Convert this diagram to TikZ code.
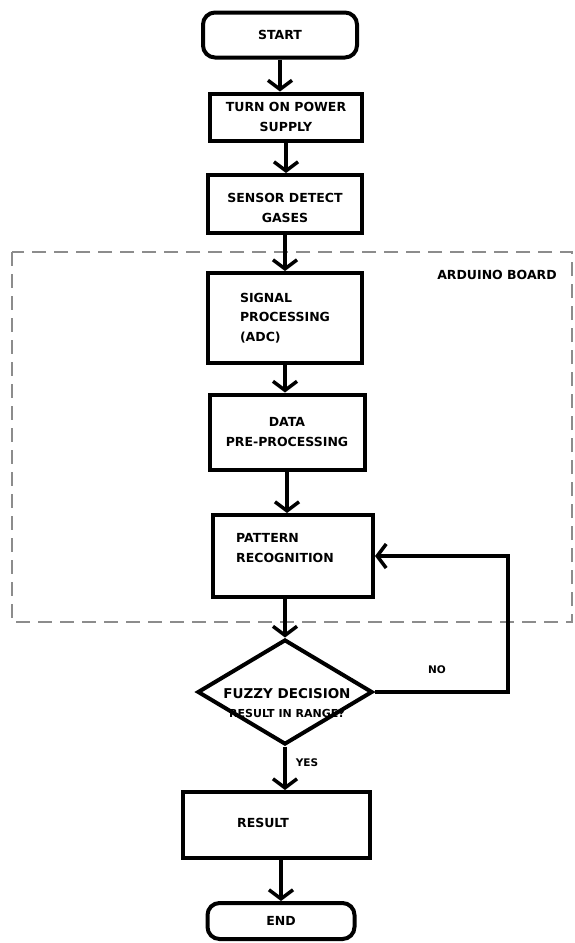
\documentclass[tikz,border=0pt]{standalone}
\usepackage{fontspec}
\setmainfont{DejaVu Sans}
\usetikzlibrary{shapes.geometric, arrows.meta}
\definecolor{boardgray}{RGB}{140, 140, 140}

\begin{document}
\begin{tikzpicture}[x=1pt, y=-1pt,
    font=\fontsize{12.5}{19.5}\selectfont\bfseries,
    stepbox/.style={draw, line width=4pt, align=center, inner sep=2pt},
    terminal/.style={stepbox, rounded corners=12pt},
    decision/.style={draw, diamond, line width=4pt, inner sep=0pt},
    flow/.style={line width=3.5pt, -{Straight Barb[length=9pt, width=24pt]}},
    small/.style={font=\fontsize{10.5}{12}\selectfont\bfseries}]
    \useasboundingbox (0,0) rectangle (575,943);

    % Placa Arduino
    \draw[boardgray, line width=1.5pt, dash pattern=on 14pt off 8pt] (12,252) rectangle (572,622);
    \node (board) at (497,275) {ARDUINO BOARD};

    % Cajas
    \node[terminal, minimum width=154pt, minimum height=45pt] (start) at (280,35) {START};
    \node[stepbox, minimum width=152pt, minimum height=47pt] (power) at (286,117) {TURN ON POWER\\SUPPLY};
    \node[stepbox, minimum width=154pt, minimum height=58pt] (sensor) at (285,204) {};
    \node (sensortext) at (285,208) [align=center] {SENSOR DETECT\\GASES};
    \node[stepbox, minimum width=154pt, minimum height=90pt, align=left] (signal) at (285,318) {SIGNAL\\PROCESSING\\(ADC)};
    \node[stepbox, minimum width=155pt, minimum height=75pt] (data) at (287,432) {DATA\\PRE-PROCESSING};
    \node[stepbox, minimum width=160pt, minimum height=82pt] (pattern) at (293,556) {};
    \node[align=left] (patterntext) at (285,548) {PATTERN\\RECOGNITION};
    \node[decision, minimum width=175pt, minimum height=105pt] (fuzzy) at (285,692) {};
    \node[align=center] (fuzzytext) at (287,703) {{\fontsize{13.5}{12}\selectfont FUZZY DECISION}\\{\fontsize{11}{13}\selectfont RESULT IN RANGE?}};
    \node[stepbox, minimum width=187pt, minimum height=66pt] (result) at (276,825) {};
    \node (resulttext) at (263,823) {RESULT};
    \node[terminal, minimum width=147pt, minimum height=36pt] (end) at (281,921) {END};

    % Flechas
    \draw[flow] (start) -- (start |- power.north);
    \draw[flow] (power) -- (power |- sensor.north);
    \draw[flow] (sensor) -- (sensor |- signal.north);
    \draw[flow] (signal) -- (signal |- data.north);
    \draw[flow] (data) -- (data |- pattern.north);
    \draw[flow] (fuzzy.north |- pattern.south) -- (fuzzy.north);
    \draw[flow] (fuzzy.south) -- (fuzzy.south |- result.north);
    \draw[flow] (end |- result.south) -- (end);

    % Lazo NO
    \coordinate (turn) at (508,692);
    \draw[flow] (fuzzy.east) -- (turn) |- (pattern.east);
    \node[small] (no) at (437,670) {NO};
    \node[small] (yes) at (307,763) {YES};
\end{tikzpicture}
\end{document}
